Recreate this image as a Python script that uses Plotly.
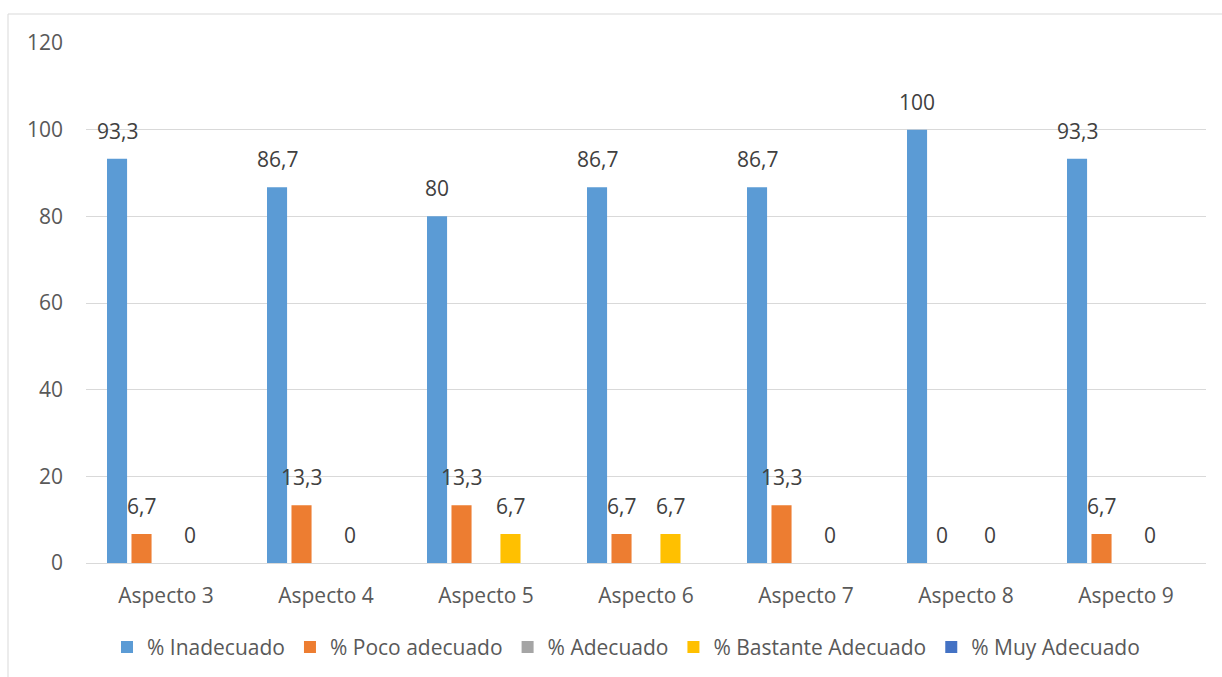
import plotly.graph_objects as go

categories = ["Aspecto 3", "Aspecto 4", "Aspecto 5", "Aspecto 6", "Aspecto 7", "Aspecto 8", "Aspecto 9"]
inadecuado = [93.3, 86.7, 80, 86.7, 86.7, 100, 93.3]
poco_adecuado = [6.7, 13.3, 13.3, 6.7, 13.3, 0, 6.7]
adecuado = [None, None, None, None, None, None, None]
bastante_adecuado = [0, 0, 6.7, 6.7, 0, 0, 0]
muy_adecuado = [None, None, None, None, None, None, None]

series = [
    ("% Inadecuado", inadecuado, "#5B9BD5"),
    ("% Poco adecuado", poco_adecuado, "#ED7D31"),
    ("% Adecuado", adecuado, "#A5A5A5"),
    ("% Bastante Adecuado", bastante_adecuado, "#FFC000"),
    ("% Muy Adecuado", muy_adecuado, "#4472C4"),
]

FONT = "Open Sans"
TXT = "#595959"
FS = 21

def fmt(v):
    return ("%g" % v).replace(".", ",")

W, H = 1222, 677
L, R, T, B = 86, 16, 43, 114
pw, ph = W - L - R, H - T - B
BARGAP = 0.235

fig = go.Figure()
for name, vals, col in series:
    fig.add_trace(go.Bar(
        x=categories, y=vals, name=name,
        marker=dict(color=col, line=dict(width=0)),
        cliponaxis=False,
    ))

# data labels above bars (Excel "outside end")
cat_px = pw / len(categories)
slot = cat_px * (1 - BARGAP) / len(series)
annotations = []
for i, (name, vals, col) in enumerate(series):
    dx = (i - (len(series) - 1) / 2) * slot
    for c, v in zip(categories, vals):
        if v is None:
            continue
        annotations.append(dict(
            x=c, y=v, xref="x", yref="y", text=fmt(v), showarrow=False,
            xanchor="center", yanchor="bottom", xshift=dx, yshift=12,
            font=dict(family=FONT, size=FS, color="#404040"),
        ))

fig.update_layout(
    width=W, height=H,
    margin=dict(l=L, r=R, t=T, b=B, autoexpand=False),
    paper_bgcolor="white", plot_bgcolor="white",
    barmode="group", bargap=BARGAP, bargroupgap=0.18,
    font=dict(family=FONT, size=FS, color=TXT),
    showlegend=True,
    legend=dict(orientation="h", x=(626 - L) / pw, xanchor="center", y=-0.162, yanchor="middle",
                font=dict(family=FONT, size=FS, color=TXT), itemwidth=30,
                traceorder="normal"),
    xaxis=dict(showgrid=False, showline=True, linecolor="#D9D9D9", linewidth=1,
               ticks="", tickfont=dict(family=FONT, size=FS, color=TXT),
               ticklabelstandoff=14, automargin=False),
    yaxis=dict(range=[0, 120], tick0=0, dtick=20, showgrid=True, gridcolor="#D9D9D9",
               gridwidth=1, zeroline=False, showline=False, ticks="",
               tickfont=dict(family=FONT, size=FS, color=TXT), ticklabelstandoff=22,
               automargin=False),
    annotations=annotations,
    shapes=[dict(type="rect", xref="paper", yref="paper",
                 x0=(8 - L) / pw, x1=(W + 5 - L) / pw,
                 y0=(H - B - (H + 5)) / ph, y1=(H - B - 14) / ph,
                 line=dict(color="#D9D9D9", width=1), fillcolor="rgba(0,0,0,0)", layer="below")],
)

fig.write_html("out.html")
